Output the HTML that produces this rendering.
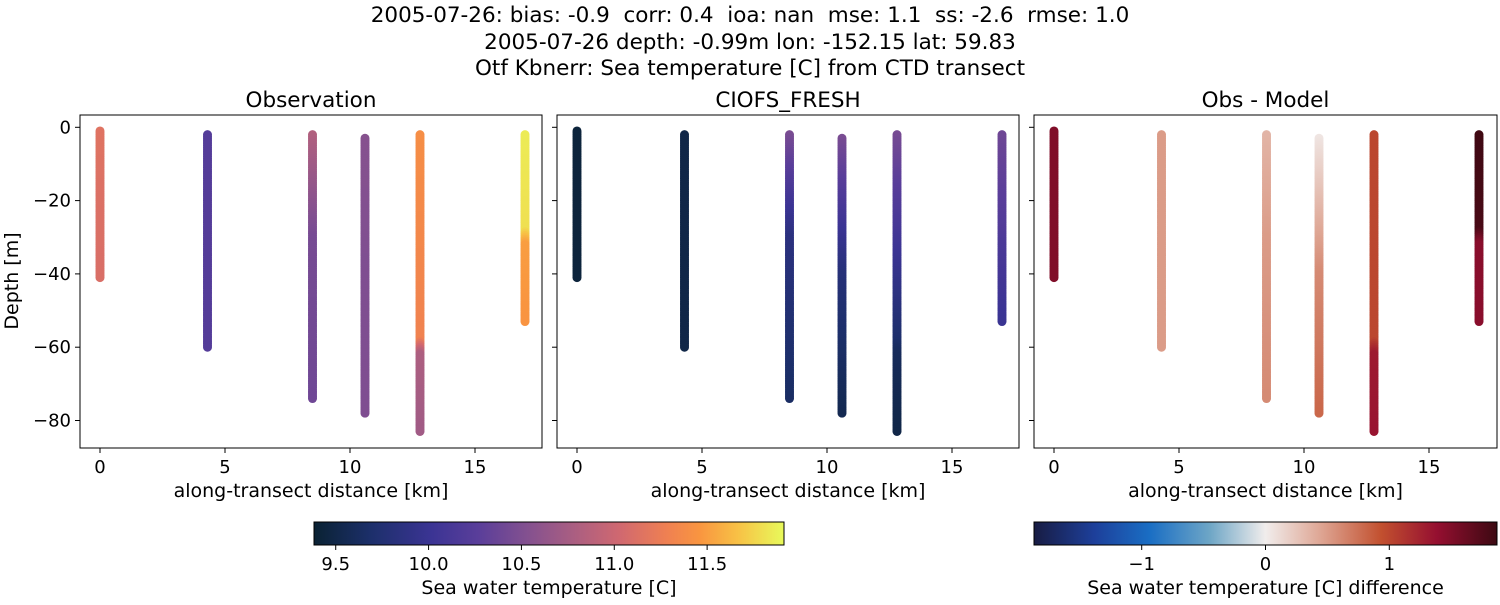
<!DOCTYPE html>
<html><head><meta charset="utf-8"><style>
body{margin:0;background:#fff;width:1500px;height:600px;overflow:hidden;font-family:"Liberation Sans","DejaVu Sans",sans-serif}
svg text{font-family:"DejaVu Sans","Liberation Sans",sans-serif;fill:#000}
</style></head><body>
<svg id="c" width="1500" height="600" xmlns="http://www.w3.org/2000/svg">
<defs>
<linearGradient id="gT" x1="0" x2="1" y1="0" y2="0">
<stop offset="0" stop-color="#0a2233"/><stop offset="0.12" stop-color="#1c2f6a"/><stop offset="0.25" stop-color="#3b3494"/><stop offset="0.35" stop-color="#5a3e9a"/><stop offset="0.45" stop-color="#825090"/><stop offset="0.55" stop-color="#a95e82"/><stop offset="0.65" stop-color="#d06870"/><stop offset="0.75" stop-color="#ef8052"/><stop offset="0.82" stop-color="#f99540"/><stop offset="0.9" stop-color="#f8c045"/><stop offset="1" stop-color="#e8fa5b"/>
</linearGradient>
<linearGradient id="gB" x1="0" x2="1" y1="0" y2="0">
<stop offset="0" stop-color="#181c43"/><stop offset="0.13" stop-color="#1d3f9a"/><stop offset="0.25" stop-color="#1a6ec4"/><stop offset="0.38" stop-color="#6ea6c6"/><stop offset="0.5" stop-color="#f1edec"/><stop offset="0.62" stop-color="#dea593"/><stop offset="0.75" stop-color="#c2502f"/><stop offset="0.87" stop-color="#950f30"/><stop offset="1" stop-color="#3c0912"/>
</linearGradient>
</defs>
<g font-size="21.5" text-anchor="middle">
<text x="750" y="22" xml:space="preserve" style="white-space:pre">2005-07-26: bias: -0.9  corr: 0.4  ioa: nan  mse: 1.1  ss: -2.6  rmse: 1.0</text>
<text x="750" y="49">2005-07-26 depth: -0.99m lon: -152.15 lat: 59.83</text>
<text x="750" y="75">Otf Kbnerr: Sea temperature [C] from CTD transect</text>
</g>
<g id="plots"></g>
</svg>
<script>
// data
const castX = [0, 4.3, 8.5, 10.6, 12.8, 17.0];
const castTop = [-1, -2, -2, -3, -2, -2];
const castBottom = [-41, -60, -74, -78, -83, -53];
const knotDepths = [[-1,-20,-41],[-2,-30,-60],[-2,-30,-74],[-3,-40,-78],[-2,-58,-62,-83],[-2,-28,-32,-53]];
const obsTemp = [[11.15,11.12,11.1],[10.22,10.22,10.22],[10.83,10.45,10.4],[10.55,10.5,10.5],[11.4,11.3,10.8,10.72],[11.85,11.8,11.5,11.45]];
const modelTemp = [[9.43,9.43,9.43],[9.5,9.5,9.5],[10.47,9.85,9.65],[10.47,9.8,9.55],[10.45,9.7,9.6,9.5],[10.4,10.2,10.15,10.0]];
const diffVals = [[1.5,1.5,1.5],[0.5,0.5,0.5],[0.35,0.5,0.6],[0.05,0.6,0.8],[1.0,1.0,1.3,1.35],[1.85,1.8,1.45,1.45]];
const xTicks = [0,5,10,15];
const yTicks = [0,-20,-40,-60,-80];
const panelTitles = ["Observation","CIOFS_FRESH","Obs - Model"];
const tempTicks = [9.5,10.0,10.5,11.0,11.5];
const diffTicks = [-1,0,1];

const thermal=[[0,"#0a2233"],[0.12,"#1c2f6a"],[0.25,"#3b3494"],[0.35,"#5a3e9a"],[0.45,"#825090"],[0.55,"#a95e82"],[0.65,"#d06870"],[0.75,"#ef8052"],[0.82,"#f99540"],[0.9,"#f8c045"],[1,"#e8fa5b"]];
const balance=[[0,"#181c43"],[0.13,"#1d3f9a"],[0.25,"#1a6ec4"],[0.38,"#6ea6c6"],[0.5,"#f1edec"],[0.62,"#dea593"],[0.75,"#c2502f"],[0.87,"#950f30"],[1,"#3c0912"]];
function hex(h){return [1,3,5].map(i=>parseInt(h.substr(i,2),16));}
function cmap(stops,t){t=Math.max(0,Math.min(1,t));for(let i=1;i<stops.length;i++){if(t<=stops[i][0]){const a=stops[i-1],b=stops[i];const f=(t-a[0])/(b[0]-a[0]);const ca=hex(a[1]),cb=hex(b[1]);return `rgb(${ca.map((v,k)=>Math.round(v+(cb[k]-v)*f)).join(',')})`;}}return stops[stops.length-1][1];}
const tMin=9.383,tMax=11.914,dMin=-1.87,dMax=1.87;
function prof(d,k,v){for(let i=1;i<k.length;i++){if(d>=k[i]){const f=(d-k[i-1])/(k[i]-k[i-1]);return v[i-1]+(v[i]-v[i-1])*f;}}return v[v.length-1];}
const NS="http://www.w3.org/2000/svg";
const root=document.getElementById('plots');
function el(tag,attrs,parent){const e=document.createElementNS(NS,tag);for(const k in attrs)e.setAttribute(k,attrs[k]);(parent||root).appendChild(e);return e;}
const panels=[{l:80,r:542},{l:557,r:1019},{l:1034,r:1497}];
const axTop=115,axBot=448;
const yS=v=>127.3+(-v)*3.665;
panels.forEach((p,pi)=>{
  const g=el('g',{});
  
  
  const xS=v=>p.l+20+v*25;
  const t=el('text',{x:(p.l+p.r)/2,y:107,'font-size':21.5,'text-anchor':'middle'},g);t.textContent=panelTitles[pi];
  
  
  castX.forEach((cx,ci)=>{
    for(let d=castTop[ci];d>=castBottom[ci];d-=0.5){
      let col;
      if(pi===0)col=cmap(thermal,(prof(d,knotDepths[ci],obsTemp[ci])-tMin)/(tMax-tMin));
      else if(pi===1)col=cmap(thermal,(prof(d,knotDepths[ci],modelTemp[ci])-tMin)/(tMax-tMin));
      else col=cmap(balance,(prof(d,knotDepths[ci],diffVals[ci])-dMin)/(dMax-dMin));
      const c=el('circle',{cx:xS(cx),cy:yS(d),r:4.5,fill:col},g);
      
      
    }
  });
  const fr=el('rect',{x:p.l,y:axTop,width:p.r-p.l,height:axBot-axTop,fill:'none',stroke:'#000','stroke-width':1},g);
  
  
  xTicks.forEach(v=>{el('line',{x1:xS(v),x2:xS(v),y1:axBot,y2:axBot+5,stroke:'#000'},g);const tx=el('text',{x:xS(v),y:axBot+25,'font-size':18,'text-anchor':'middle'},g);tx.textContent=v;
    
    });
  yTicks.forEach(v=>{el('line',{x1:p.l-5,x2:p.l,y1:yS(v),y2:yS(v),stroke:'#000'},g);if(pi===0){const ty=el('text',{x:p.l-9,y:yS(v)+6,'font-size':18,'text-anchor':'end'},g);ty.textContent=v===0?'0':'\u2212'+(-v);
    
    }});
  const xl=el('text',{x:(p.l+p.r)/2,y:497,'font-size':19,'text-anchor':'middle'},g);xl.textContent='along-transect distance [km]';
  
  
});
const yl=el('text',{x:0,y:0,'font-size':19,'text-anchor':'middle',transform:'translate(18,281) rotate(-90)'});yl.textContent='Depth [m]';


function cbar(x0,x1,fill,lo,hi,ticks,label,name,fmt){
  const g=el('g',{});
  
  
  el('rect',{x:x0,y:522,width:x1-x0,height:23,fill:fill,stroke:'#000','stroke-width':1},g);
  const s=v=>x0+(v-lo)/(hi-lo)*(x1-x0);
  ticks.forEach(v=>{el('line',{x1:s(v),x2:s(v),y1:545,y2:550,stroke:'#000'},g);const t=el('text',{x:s(v),y:570,'font-size':18,'text-anchor':'middle'},g);t.textContent=fmt(v);
    
    });
  const l=el('text',{x:(x0+x1)/2,y:594,'font-size':19,'text-anchor':'middle'},g);l.textContent=label;
  
  
}
cbar(314,784,'url(#gT)',tMin,tMax,tempTicks,'Sea water temperature [C]','temperature-colorbar',v=>v.toFixed(1));
cbar(1034,1497,'url(#gB)',dMin,dMax,diffTicks,'Sea water temperature [C] difference','difference-colorbar',v=>v<0?'\u2212'+(-v):String(v));
</script>
</body></html>
